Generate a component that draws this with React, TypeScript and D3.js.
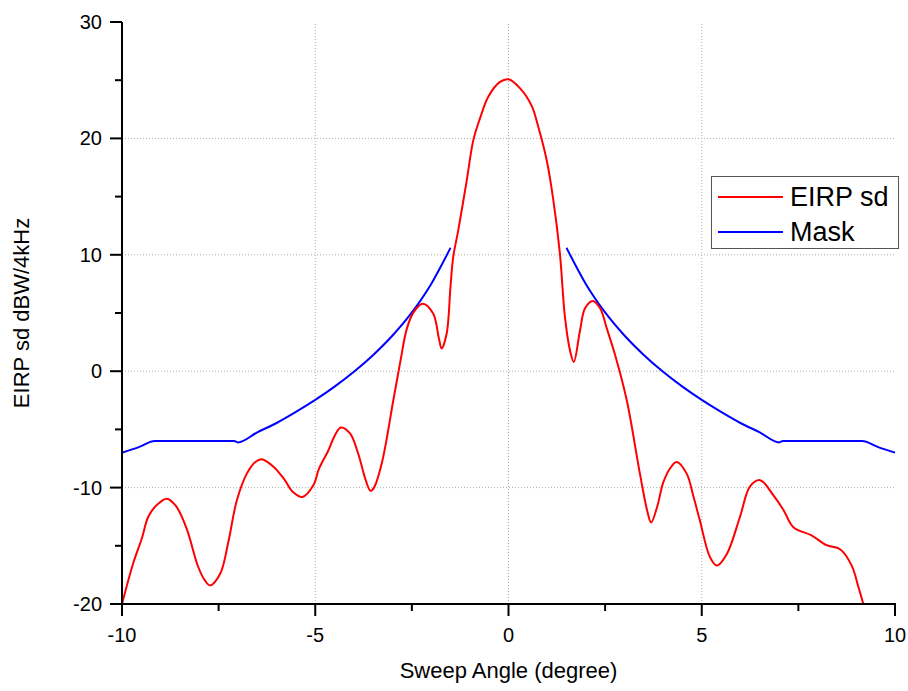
import React from "react";
import * as d3 from "d3";

const xTicks = [-10, -5, 0, 5, 10];
const xMinorTicks = [-7.5, -2.5, 2.5, 7.5];
const yTicks = [-20, -10, 0, 10, 20, 30];
const yMinorTicks = [-15, -5, 5, 15, 25];
const gridX = [-5, 0, 5];
const gridY = [-10, 0, 10, 20];

const eirpAngle = [
  -10, -9.71, -9.49, -9.32, -9.1, -8.84, -8.6, -8.33, -8.03, -7.85, -7.72, -7.46, -7.25, -7.03, -6.77, -6.55, -6.39,
  -6.08, -5.8, -5.57, -5.33, -5.05, -4.9, -4.7, -4.34, -4.1, -3.89, -3.7, -3.57, -3.48, -3.28, -2.98, -2.8, -2.63,
  -2.45, -2.22, -1.95, -1.8, -1.73, -1.6, -1.5, -1.43, -1.3, -1.08, -0.91, -0.74, -0.52, -0.22, 0, 0.3, 0.6, 0.77,
  0.99, 1.16, 1.33, 1.46, 1.59, 1.69, 1.85, 1.98, 2.18, 2.37, 2.55, 2.76, 3.06, 3.4, 3.59, 3.69, 3.85, 4.0, 4.17,
  4.35, 4.61, 4.78, 4.95, 5.21, 5.39, 5.65, 5.99, 6.25, 6.51, 6.85, 7.11, 7.37, 7.84, 8.23, 8.58, 8.88, 9.05, 9.18,
];
const eirpValue = [
  -20, -16.5, -14.4, -12.5, -11.5, -10.95, -11.6, -13.5, -16.8, -18.0, -18.4, -17.4, -14.7, -11.1, -8.8, -7.8, -7.56,
  -8.2, -9.3, -10.4, -10.8, -9.8, -8.35, -7.07, -4.84, -5.35, -7.07, -9.3, -10.28, -10.0, -7.93, -2.5, 0.8, 3.66,
  5.1, 5.8, 4.95, 2.8, 1.95, 3.24, 7.3, 9.82, 12.1, 16.4, 19.85, 21.7, 23.6, 24.85, 25.08, 24.3, 22.8, 21.0,
  18.1, 14.7, 10.1, 4.66, 1.8, 0.8, 3.5, 5.4, 6.04, 5.4, 3.6, 1.37, -2.5, -8.8, -12.0, -13.0, -11.6, -9.6, -8.4,
  -7.8, -8.8, -10.7, -12.8, -15.95, -16.7, -15.7, -12.5, -9.9, -9.36, -10.65, -11.9, -13.4, -14.1, -14.95, -15.3, -16.7, -18.5, -20,
];

const maskAngle = [
  -10, -9.55, -9.15, -7.1, -7.0, -6.5, -6.0, -5.5, -5.0, -4.5, -4.0, -3.5, -3.0, -2.5, -2.0, -1.5,
  0,
  1.5, 2.0, 2.5, 3.0, 3.5, 4.0, 4.5, 5.0, 5.5, 6.0, 6.5, 7.0, 7.1, 9.15, 9.55, 10,
];
const maskValue = [
  -7.0, -6.5, -6.0, -6.0, -6.12, -5.25, -4.45, -3.5, -2.47, -1.33, -0.05, 1.4, 3.07, 5.05, 7.5, 10.6,
  NaN,
  10.6, 7.5, 5.05, 3.07, 1.4, -0.05, -1.33, -2.47, -3.5, -4.45, -5.25, -6.12, -6.0, -6.0, -6.5, -7.0,
];

const seriesNames = ["EIRP sd", "Mask"];
const seriesColors = ["#ff0000", "#0000ff"];

const W = 908;
const H = 691;
const left = 122;
const right = 895;
const top = 22;
const bottom = 604;

export default function App() {
  const x = d3.scaleLinear().domain([-10, 10]).range([left, right]);
  const y = d3.scaleLinear().domain([-20, 30]).range([bottom, top]);

  const smoothLine = d3
    .line<[number, number]>()
    .defined((d) => !Number.isNaN(d[1]))
    .curve(d3.curveCatmullRom.alpha(0.5))
    .x((d) => x(d[0]))
    .y((d) => y(d[1]));

  const plainLine = d3
    .line<[number, number]>()
    .defined((d) => !Number.isNaN(d[1]))
    .curve(d3.curveMonotoneX)
    .x((d) => x(d[0]))
    .y((d) => y(d[1]));

  const eirpPts: [number, number][] = eirpAngle.map((a, i) => [a, eirpValue[i]]);
  const maskPts: [number, number][] = maskAngle.map((a, i) => [a, maskValue[i]]);

  const font = "Arial, 'Liberation Sans', sans-serif";

  return (
    <svg
      width={W}
      height={H}
      style={{ position: "absolute", left: 0, top: 0, background: "#fff" }}
      fontFamily={font}
    >
      <rect x={0} y={0} width={W} height={H} fill="#fff" />
      {gridX.map((v) => (
        <line
          key={"gx" + v}
          x1={x(v)}
          x2={x(v)}
          y1={top + 2}
          y2={bottom}
          stroke="#b0b0b0"
          strokeWidth={1}
          strokeDasharray="1,2"
        />
      ))}
      {gridY.map((v) => (
        <line
          key={"gy" + v}
          x1={left}
          x2={right}
          y1={y(v)}
          y2={y(v)}
          stroke="#b0b0b0"
          strokeWidth={1}
          strokeDasharray="1,2"
        />
      ))}

      <path d={plainLine(maskPts) || ""} fill="none" stroke={seriesColors[1]} strokeWidth={2} />
      <path d={smoothLine(eirpPts) || ""} fill="none" stroke={seriesColors[0]} strokeWidth={2} />

      <line x1={left} x2={left} y1={top} y2={bottom + 1} stroke="#000" strokeWidth={2} />
      <line x1={left - 1} x2={right + 1} y1={bottom} y2={bottom} stroke="#000" strokeWidth={2} />
      {yTicks.map((v) => (
        <g key={"yt" + v}>
          <line x1={left - 12} x2={left} y1={y(v)} y2={y(v)} stroke="#000" strokeWidth={2} />
          <text x={left - 20} y={y(v) + 7} textAnchor="end" fontSize={20} fill="#000">
            {v}
          </text>
        </g>
      ))}
      {yMinorTicks.map((v) => (
        <line key={"ym" + v} x1={left - 7} x2={left} y1={y(v)} y2={y(v)} stroke="#000" strokeWidth={2} />
      ))}
      {xTicks.map((v) => (
        <g key={"xt" + v}>
          <line x1={x(v)} x2={x(v)} y1={bottom} y2={bottom + 12} stroke="#000" strokeWidth={2} />
          <text x={x(v)} y={bottom + 38} textAnchor="middle" fontSize={20} fill="#000">
            {v}
          </text>
        </g>
      ))}
      {xMinorTicks.map((v) => (
        <line key={"xm" + v} x1={x(v)} x2={x(v)} y1={bottom} y2={bottom + 7} stroke="#000" strokeWidth={2} />
      ))}

      <text x={(left + right) / 2} y={678} textAnchor="middle" fontSize={22} fill="#000">
        Sweep Angle (degree)
      </text>
      <text
        transform={`translate(29, ${(top + bottom) / 2}) rotate(-90)`}
        textAnchor="middle"
        fontSize={22}
        fill="#000"
      >
        EIRP sd dBW/4kHz
      </text>

      <rect x={711.5} y={176.5} width={187} height={72} fill="#fff" stroke="#555" strokeWidth={1} />
      {seriesNames.map((name, i) => (
        <g key={name}>
          <line
            x1={718}
            x2={783}
            y1={197 + i * 35}
            y2={197 + i * 35}
            stroke={seriesColors[i]}
            strokeWidth={2}
          />
          <text x={790} y={206 + i * 35} fontSize={27} fill="#000">
            {name}
          </text>
        </g>
      ))}
    </svg>
  );
}
